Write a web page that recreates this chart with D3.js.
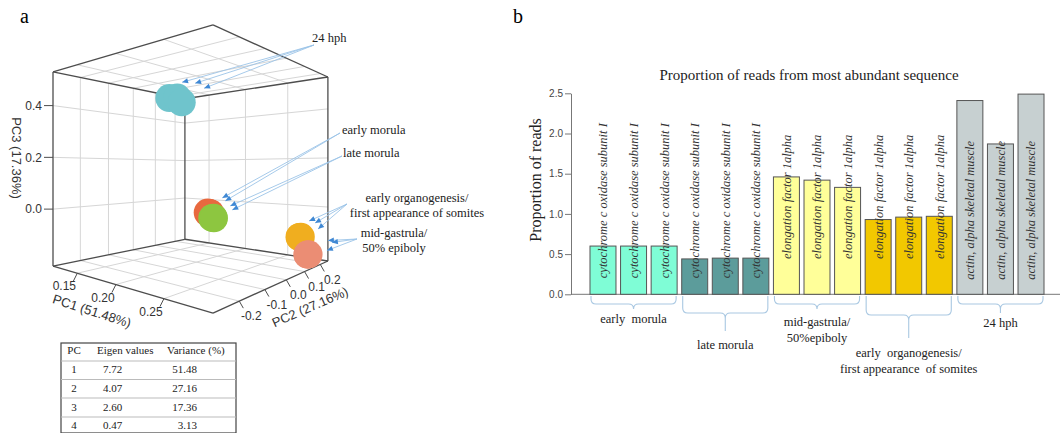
<!DOCTYPE html>
<html>
<head>
<meta charset="utf-8">
<script src="https://cdn.jsdelivr.net/npm/d3@7"></script>
<style>
  body { margin: 0; background: #fff; }
  svg { display: block; }
</style>
</head>
<body>
<svg id="fig" width="1061" height="433"></svg>
<script>
// ---------- panel a data (PCA of 15 samples, 3 per stage)
const sampleStage = ['24 hph', '24 hph', '24 hph',
  'early morula', 'early morula', 'early morula',
  'late morula', 'late morula', 'late morula',
  'early organogenesis', 'early organogenesis', 'early organogenesis',
  'mid-gastrula', 'mid-gastrula', 'mid-gastrula'];
const pc1 = [0.128, 0.128, 0.129, 0.236, 0.237, 0.238, 0.259, 0.260, 0.260, 0.284, 0.285, 0.284, 0.278, 0.279, 0.278];
const pc2 = [0.120, 0.160, 0.180, -0.088, -0.086, -0.085, -0.161, -0.160, -0.159, 0.116, 0.117, 0.118, 0.205, 0.206, 0.207];
const pc3 = [0.500, 0.510, 0.490, 0.001, 0.000, -0.001, 0.000, 0.001, -0.001, -0.100, -0.099, -0.101, -0.190, -0.189, -0.191];
const pc1Ticks = [0.15, 0.20, 0.25];
const pc2Ticks = [-0.2, -0.1, 0.0, 0.1, 0.2];
const pc3Ticks = [0.0, 0.2, 0.4];

const tablePC = ['1', '2', '3', '4'];
const tableEigen = ['7.72', '4.07', '2.60', '0.47'];
const tableVar = ['51.48', '27.16', '17.36', '3.13'];

// ---------- panel b data
const stageNames = ['early morula', 'late morula', 'mid-gastrula', 'early organogenesis', '24 hph'];
const stageLines = [['early  morula'], ['late morula'], ['mid-gastrula/', '50%epiboly'],
  ['early  organogenesis/', 'first appearance  of somites'], ['24 hph']];
const barStage = [0, 0, 0, 1, 1, 1, 2, 2, 2, 3, 3, 3, 4, 4, 4];
const geneNames = ['cytochrome c oxidase subunit I', 'cytochrome c oxidase subunit I', 'elongation factor 1alpha',
  'elongation factor 1alpha', 'actin, alpha skeletal muscle'];
const reads = [0.60, 0.60, 0.60, 0.44, 0.45, 0.45, 1.46, 1.42, 1.33, 0.93, 0.96, 0.97, 2.41, 1.87, 2.49];
const readTicks = [0, 0.5, 1.0, 1.5, 2.0, 2.5];

const serif = "'Liberation Serif', 'Times New Roman', serif";
const sans = "'Liberation Sans', Arial, sans-serif";

const svg = d3.select('#fig');

svg.append('text').attr('x', 20).attr('y', 23).style('font', `20px ${serif}`).text('a');
svg.append('text').attr('x', 513).attr('y', 23).style('font', `20px ${serif}`).text('b');

// ================= panel a =================
const su = d3.scaleLinear().domain([0.1125, 0.291]).range([0, 1]);
const sv = d3.scaleLinear().domain([-0.286, 0.254]).range([0, 1]);
const sw = d3.scaleLinear().domain([-0.22, 0.53]).range([0, 1]);

// perspective camera looking horizontally at the box
const cam = { theta: 39.6 * Math.PI / 180, lx: 1.047, ly: 1.012, l0: 0.0365, d0: 1.378, f: 397, cx: 202.5, cy: 169 };
function proj(p) {
  const a = p[0] - 1, b = p[1];
  const lat = cam.l0 + a * cam.lx * Math.cos(cam.theta) + b * cam.ly * Math.sin(cam.theta);
  const dep = cam.d0 - a * cam.lx * Math.sin(cam.theta) + b * cam.ly * Math.cos(cam.theta);
  return [cam.cx + cam.f * lat / dep, cam.cy - cam.f * (p[2] - 0.5) / dep];
}

const pa = svg.append('g');

// grid on back walls, floor and ceiling
const grid = [];
pc1Ticks.forEach(t => {
  const a = su(t);
  grid.push([[a, 0, 0], [a, 1, 0]], [[a, 0, 1], [a, 1, 1]], [[a, 1, 0], [a, 1, 1]]);
});
pc2Ticks.forEach(t => {
  const b = sv(t);
  grid.push([[0, b, 0], [1, b, 0]], [[0, b, 1], [1, b, 1]], [[0, b, 0], [0, b, 1]]);
});
pc3Ticks.forEach(t => {
  const c = sw(t);
  grid.push([[0, 0, c], [0, 1, c]], [[0, 1, c], [1, 1, c]]);
});
const line = d3.line();
pa.selectAll('.grid').data(grid).enter().append('path')
  .attr('d', s => line(s.map(proj)))
  .attr('fill', 'none').attr('stroke', '#d6d6d6').attr('stroke-width', 1);

// box outline (the near vertical edge is left out)
const edges = [
  [[0, 0, 0], [1, 0, 0]], [[1, 0, 0], [1, 1, 0]], [[1, 1, 0], [0, 1, 0]], [[0, 1, 0], [0, 0, 0]],
  [[0, 0, 1], [1, 0, 1]], [[1, 0, 1], [1, 1, 1]], [[1, 1, 1], [0, 1, 1]], [[0, 1, 1], [0, 0, 1]],
  [[0, 0, 0], [0, 0, 1]], [[1, 1, 0], [1, 1, 1]], [[0, 1, 0], [0, 1, 1]]
];
pa.selectAll('.edge').data(edges).enter().append('path')
  .attr('d', s => line(s.map(proj)))
  .attr('fill', 'none').attr('stroke', '#4d4d4d').attr('stroke-width', 1.3);

// axis ticks
const tickFont = `12px ${sans}`;
pc3Ticks.forEach(t => {
  const p = proj([0, 0, sw(t)]);
  pa.append('line').attr('x1', p[0]).attr('y1', p[1]).attr('x2', p[0] - 9).attr('y2', p[1]).attr('stroke', '#4d4d4d');
  pa.append('text').attr('x', p[0] - 11).attr('y', p[1]).attr('dy', '0.35em').attr('text-anchor', 'end')
    .style('font', tickFont).attr('fill', '#333').text(t.toFixed(1));
});
pc1Ticks.forEach(t => {
  const p = proj([su(t), 0, 0]);
  pa.append('line').attr('x1', p[0]).attr('y1', p[1]).attr('x2', p[0] - 4).attr('y2', p[1] + 8).attr('stroke', '#4d4d4d');
  pa.append('text').attr('x', p[0] - 13).attr('y', p[1] + 13).attr('dy', '0.35em').attr('text-anchor', 'middle')
    .style('font', tickFont).attr('fill', '#333').text(t.toFixed(2));
});
pc2Ticks.forEach(t => {
  const p = proj([1, sv(t), 0]);
  pa.append('line').attr('x1', p[0]).attr('y1', p[1]).attr('x2', p[0] + 4).attr('y2', p[1] + 7).attr('stroke', '#4d4d4d');
  pa.append('text').attr('x', p[0] + 12).attr('y', p[1] + 15).attr('dy', '0.35em').attr('text-anchor', 'middle')
    .style('font', tickFont).attr('fill', '#333').text(t.toFixed(1));
});

// axis titles
const titleFont = `13px ${sans}`;
pa.append('text').attr('transform', 'translate(92,311) rotate(17.8)').attr('text-anchor', 'middle').attr('dy', '0.35em')
  .style('font', titleFont).attr('fill', '#333').text('PC1 (51.48%)');
pa.append('text').attr('transform', 'translate(310,307) rotate(-23.7)').attr('text-anchor', 'middle').attr('dy', '0.35em')
  .style('font', titleFont).attr('fill', '#333').text('PC2 (27.16%)');
pa.append('text').attr('transform', 'translate(17,158) rotate(90)').attr('text-anchor', 'middle').attr('dy', '0.35em')
  .style('font', titleFont).attr('fill', '#333').text('PC3 (17.36%)');

// samples
const stageColor = {
  '24 hph': '#6fc4cc', 'early morula': '#e8693f', 'late morula': '#8dc640',
  'early organogenesis': '#f0ae1f', 'mid-gastrula': '#eb8d74'
};
const pts = sampleStage.map((s, i) => ({ stage: s, xy: proj([su(pc1[i]), sv(pc2[i]), sw(pc3[i])]) }));
pa.selectAll('.pt').data(pts).enter().append('circle')
  .attr('cx', d => d.xy[0]).attr('cy', d => d.xy[1]).attr('r', 14)
  .attr('fill', d => stageColor[d.stage]);

const centre = s => {
  const g = pts.filter(d => d.stage === s);
  return [d3.mean(g, d => d.xy[0]), d3.mean(g, d => d.xy[1])];
};

// call-outs with arrows
const callouts = [
  { lines: ['24 hph'], x: 312, y: 42, anchor: 'start', from: [314, 45], stage: '24 hph', tips: [[6, -17], [19, -16], [28, -11]] },
  { lines: ['early morula'], x: 342, y: 134, anchor: 'start', from: [340, 133], stage: 'late morula', tips: [[9, -20], [12, -17]] },
  { lines: ['late morula'], x: 343, y: 157, anchor: 'start', from: [342, 156], stage: 'late morula', tips: [[17, -12], [19, -8]] },
  { lines: ['early organogenesis/', 'first appearance of somites'], x: 417, y: 202, anchor: 'middle', from: [347, 204],
    stage: 'early organogenesis', tips: [[9, -16], [15, -14], [18, -8]] },
  { lines: ['mid-gastrula/', '50% epiboly'], x: 394, y: 237, anchor: 'middle', from: [357, 239],
    stage: 'mid-gastrula', tips: [[20, -14], [24, -12], [19, -4]] }
];
callouts.forEach(c => {
  const ctr = centre(c.stage);
  c.tips.forEach(o => {
    const tx = ctr[0] + o[0], ty = ctr[1] + o[1];
    pa.append('line').attr('x1', c.from[0]).attr('y1', c.from[1]).attr('x2', tx).attr('y2', ty)
      .attr('stroke', '#9cc4e8').attr('stroke-width', 0.9);
    const ang = Math.atan2(ty - c.from[1], tx - c.from[0]) * 180 / Math.PI;
    pa.append('path').attr('d', 'M0,0 L-6,-2.6 L-6,2.6 Z')
      .attr('transform', `translate(${tx},${ty}) rotate(${ang})`).attr('fill', '#3f88d4');
  });
  const t = pa.append('text').attr('x', c.x).attr('y', c.y).attr('text-anchor', c.anchor)
    .style('font', `12.5px ${serif}`).attr('fill', '#222');
  c.lines.forEach((s, i) => t.append('tspan').attr('x', c.x).attr('dy', i ? 15 : 0).text(s));
});

// eigen value table
const tb = svg.append('g');
tb.append('rect').attr('x', 61).attr('y', 343).attr('width', 175).attr('height', 90)
  .attr('fill', 'none').attr('stroke', '#444').attr('stroke-width', 1.2);
[361, 379.5, 398, 417].forEach(y => tb.append('line').attr('x1', 61).attr('x2', 236).attr('y1', y).attr('y2', y)
  .attr('stroke', '#bbb'));
const tFont = `11px ${serif}`;
[['PC', 74, 'middle'], ['Eigen values', 97, 'start'], ['Variance (%)', 167, 'start']].forEach(h =>
  tb.append('text').attr('x', h[1]).attr('y', 350).attr('dy', '0.35em').attr('text-anchor', h[2])
    .style('font', tFont).attr('fill', '#222').text(h[0]));
const rowY = [369.5, 388, 407, 425.5];
tablePC.forEach((pc, i) => {
  tb.append('text').attr('x', 74).attr('y', rowY[i]).attr('dy', '0.35em').attr('text-anchor', 'middle')
    .style('font', tFont).attr('fill', '#222').text(pc);
  tb.append('text').attr('x', 103).attr('y', rowY[i]).attr('dy', '0.35em')
    .style('font', tFont).attr('fill', '#222').text(tableEigen[i]);
  tb.append('text').attr('x', 197).attr('y', rowY[i]).attr('dy', '0.35em').attr('text-anchor', 'end')
    .style('font', tFont).attr('fill', '#222').text(tableVar[i]);
});

// ================= panel b =================
const pb = svg.append('g');
const x = d3.scaleBand().domain(d3.range(reads.length)).range([587.7, 1046.3]).paddingInner(0.15).paddingOuter(0.075);
const y = d3.scaleLinear().domain([0, 2.5]).range([294.3, 93.3]);
const barColor = ['#7ffdd6', '#5c9c9b', '#ffff99', '#f2c800', '#c7d0d1'];

pb.append('text').attr('x', 809).attr('y', 80).attr('text-anchor', 'middle')
  .style('font', `15px ${serif}`).attr('fill', '#222').text('Proportion of reads from most abundant sequence');
pb.append('text').attr('transform', 'translate(541,180) rotate(-90)').attr('text-anchor', 'middle')
  .style('font', `16px ${serif}`).attr('fill', '#222').text('Proportion of reads');

const yAxis = pb.append('g').attr('transform', 'translate(571,0)')
  .call(d3.axisLeft(y).tickValues(readTicks).tickFormat(d3.format('.1f')).tickSize(6).tickSizeOuter(0));
yAxis.select('.domain').attr('stroke', '#777');
yAxis.selectAll('.tick line').attr('stroke', '#777');
yAxis.selectAll('.tick text').style('font', `10px ${sans}`).attr('fill', '#444').attr('x', -8);

pb.append('line').attr('x1', 571).attr('x2', 1060).attr('y1', y(0)).attr('y2', y(0)).attr('stroke', '#777');

pb.selectAll('.bar').data(reads).enter().append('rect')
  .attr('x', (d, i) => x(i)).attr('width', x.bandwidth())
  .attr('y', d => y(d)).attr('height', d => y(0) - y(d))
  .attr('fill', (d, i) => barColor[barStage[i]]).attr('stroke', '#555').attr('stroke-width', 1);

// gene labels inside bars
const labelStart = { 'cytochrome c oxidase subunit I': 0.2, 'elongation factor 1alpha': 0.44, 'actin, alpha skeletal muscle': 0.18 };
pb.selectAll('.gene').data(reads).enter().append('text')
  .attr('transform', (d, i) => {
    const g = geneNames[barStage[i]];
    return `translate(${x(i) + x.bandwidth() / 2},${y(labelStart[g])}) rotate(-90)`;
  })
  .attr('dy', '0.35em')
  .style('font', `italic 12.5px ${serif}`).attr('fill', '#333')
  .text((d, i) => geneNames[barStage[i]]);

// stage braces under the bars
const braceStyle = [
  { hy: 304, tick: 309, ty: 323 }, { hy: 313, tick: 331, ty: 349 }, { hy: 304, tick: 309, ty: 326 },
  { hy: 315, tick: 338, ty: 357 }, { hy: 304, tick: 313, ty: 327 }
];
stageNames.forEach((s, k) => {
  const idx = d3.range(reads.length).filter(i => barStage[i] === k);
  const x0 = x(idx[0]) + 1, x1 = x(idx[idx.length - 1]) + x.bandwidth() - 1, xm = (x0 + x1) / 2;
  const st = braceStyle[k], r = 5, top = 296;
  const p = d3.path();
  p.moveTo(x0, top); p.lineTo(x0, st.hy - r); p.quadraticCurveTo(x0, st.hy, x0 + r, st.hy);
  p.lineTo(xm - r, st.hy); p.quadraticCurveTo(xm, st.hy, xm, st.hy + r); p.lineTo(xm, st.tick);
  p.moveTo(x1, top); p.lineTo(x1, st.hy - r); p.quadraticCurveTo(x1, st.hy, x1 - r, st.hy);
  p.lineTo(xm + r, st.hy); p.quadraticCurveTo(xm, st.hy, xm, st.hy + r);
  pb.append('path').attr('d', p.toString()).attr('fill', 'none').attr('stroke', '#a9c8e2').attr('stroke-width', 1.1);
  const t = pb.append('text').attr('x', xm).attr('y', st.ty).attr('text-anchor', 'middle')
    .style('font', `12.5px ${serif}`).attr('fill', '#222').style('white-space', 'pre');
  stageLines[k].forEach((line, i) => t.append('tspan').attr('x', xm).attr('dy', i ? 16 : 0).text(line));
});
</script>
</body>
</html>
